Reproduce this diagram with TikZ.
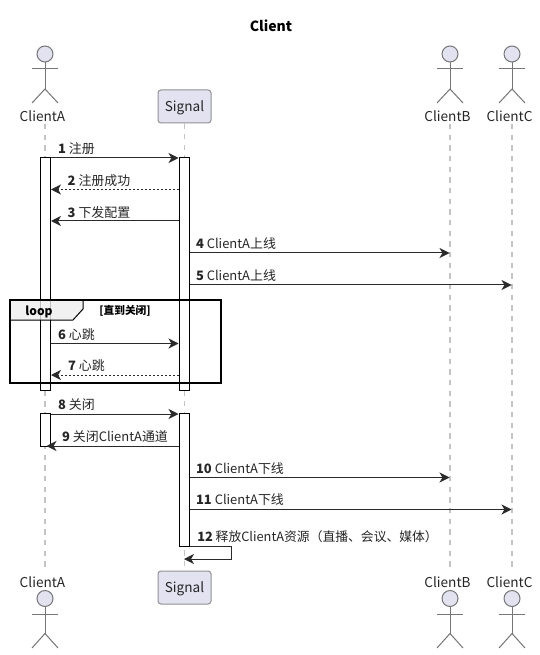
\documentclass[tikz,border=0pt]{standalone}
\usepackage{fontspec}
\setmainfont{Noto Sans CJK SC}
\usetikzlibrary{arrows.meta}
\definecolor{actfill}{HTML}{E2E2F0}
\definecolor{actline}{HTML}{767676}
\definecolor{lifegray}{HTML}{C4C4C4}
\definecolor{msgline}{HTML}{2A2A2A}
\definecolor{loophead}{HTML}{EEEEEE}
\newcommand{\stickman}[6]{% name, x, head y, arm y, hip y, foot y
  \node[head] (#1h) at (#2,#3) {};
  \coordinate (#1p) at (#2,#5);
  \coordinate (#1l) at (#2-13,#4);
  \coordinate (#1r) at (#2+13,#4);
  \coordinate (#1fl) at (#2-13,#6);
  \coordinate (#1fr) at (#2+13,#6);
  \draw[stick] (#1h.south) -- (#1p);
  \draw[stick] (#1l) -- (#1r);
  \draw[stick] (#1fl) -- (#1p) -- (#1fr);
}
\tikzset{
  x=0.75pt,y=-0.75pt,
  head/.style={circle,draw=actline,fill=actfill,line width=0.75pt,minimum size=12pt,inner sep=0pt},
  stick/.style={draw=actline,line width=0.75pt},
  actorlabel/.style={font=\fontsize{10.2pt}{12pt}\selectfont,text=black!85,inner sep=0pt,anchor=center},
  serverbox/.style={draw=actline!80,fill=actfill,rounded corners=2.2pt,line width=0.75pt,minimum width=39.75pt,minimum height=24.75pt,inner sep=0pt},
  serverlabel/.style={font=\fontsize{10.2pt}{12pt}\selectfont,text=black!85,inner sep=0pt},
  lifeline/.style={draw=lifegray,line width=1.1pt,dash pattern=on 4pt off 4pt},
  bar/.style={draw=black,fill=white,line width=0.75pt,inner sep=0pt,minimum width=7.5pt},
  msg/.style={draw=msgline,line width=0.75pt,-{Stealth[length=7.5pt,width=7.5pt,inset=2.2pt]}},
  reply/.style={msg,dash pattern=on 1.5pt off 1.5pt},
  mlabel/.style={font=\fontsize{9.7pt}{11pt}\selectfont,text=black!85,inner sep=0pt,anchor=center},
  titlelabel/.style={font=\bfseries\fontsize{10.5pt}{12pt}\selectfont,inner sep=0pt},
  loopbox/.style={draw=black,line width=1.5pt},
  loophd/.style={draw=black,fill=loophead,fill opacity=0.8,line width=0.75pt},
}
\begin{document}
\begin{tikzpicture}
\useasboundingbox[fill=white] (0,0) rectangle (539,655);
\node[titlelabel] (title) at (271,26) {Client};
% actors top
\stickman{at}{45}{54}{69}{89}{103}
\stickman{bt}{450}{54}{69}{89}{103}
\stickman{ct}{512}{54}{69}{89}{103}
\node[actorlabel] (alt) at (42.5,116.5) {ClientA};
\node[actorlabel] (blt) at (447.5,116.5) {ClientB};
\node[actorlabel] (clt) at (509.5,116.5) {ClientC};
\node[serverbox] (st) at (184.5,106.5) {};
\node[serverlabel] (stt) at (184.5,108) {Signal};
% actors bottom
\node[actorlabel] (alb) at (42.5,582.5) {ClientA};
\node[actorlabel] (blb) at (447.5,582.5) {ClientB};
\node[actorlabel] (clb) at (509.5,582.5) {ClientC};
\node[serverbox] (sb) at (184.5,587.5) {};
\node[serverlabel] (sbt) at (184.5,589) {Signal};
\stickman{ab}{45}{598.5}{614}{633.5}{648}
\stickman{bb}{450}{598.5}{614}{633.5}{648}
\stickman{cb}{512}{598.5}{614}{633.5}{648}
% lifelines
\coordinate (alt0) at (45,124);
\coordinate (alb0) at (45,570);
\coordinate (blt0) at (450,124);
\coordinate (blb0) at (450,570);
\coordinate (clt0) at (512,124);
\coordinate (clb0) at (512,570);
\draw[lifeline] (alt0) -- (alb0);
\draw[lifeline] (st.south) -- (sb.north);
\draw[lifeline] (blt0) -- (blb0);
\draw[lifeline] (clt0) -- (clb0);
% activation bars
\node[bar,minimum height=174.4pt] (a1) at (45.5,273.8) {};
\node[bar,minimum height=174.4pt] (s1) at (184.5,273.8) {};
\node[bar,minimum height=24.6pt] (a2) at (45.5,429.9) {};
\node[bar,minimum height=100.1pt] (s2) at (184.5,480.2) {};
% message end points
\foreach \n/\y in {1/158,2/189.5,3/221,6/343.5,7/375,8/414,9/446}{
  \coordinate (L\n) at (51,\y);
  \coordinate (R\n) at (178.5,\y);
}
\coordinate (L9) at (46.5,446);
\foreach \n/\y in {4/253,5/285,10/477.5,11/509.5}{
  \coordinate (S\n) at (190,\y);
}
\coordinate (B4) at (449.5,253);
\coordinate (C5) at (511.5,285);
\coordinate (B10) at (449.5,477.5);
\coordinate (C11) at (511.5,509.5);
\coordinate (S12a) at (190,546);
\coordinate (S12b) at (231.5,546);
\coordinate (S12c) at (231.5,559);
\coordinate (S12d) at (184,559);
% messages
\draw[msg] (L1) -- (R1);
\draw[reply] (R2) -- (L2);
\draw[msg] (R3) -- (L3);
\draw[msg] (S4) -- (B4);
\draw[msg] (S5) -- (C5);
\draw[msg] (L6) -- (R6);
\draw[reply] (R7) -- (L7);
\draw[msg] (L8) -- (R8);
\draw[msg] (R9) -- (L9);
\draw[msg] (S10) -- (B10);
\draw[msg] (S11) -- (C11);
\draw[msg] (S12a) -- (S12b) -- (S12c) -- (S12d);
% labels
\node[mlabel] (t1) at (76.5,148.5) {\textbf{1} 注册};
\node[mlabel] (t2) at (99,180.5) {\textbf{2} 注册成功};
\node[mlabel] (t3) at (99,212.5) {\textbf{3} 下发配置};
\node[mlabel] (t4) at (236,243.5) {\textbf{4} ClientA上线};
\node[mlabel] (t5) at (236,275.5) {\textbf{5} ClientA上线};
\node[mlabel] (t6) at (76.5,334.5) {\textbf{6} 心跳};
\node[mlabel] (t7) at (86.5,366) {\textbf{7} 心跳};
\node[mlabel] (t8) at (76.5,404.5) {\textbf{8} 关闭};
\node[mlabel] (t9) at (115,436.5) {\textbf{9} 关闭ClientA通道};
\node[mlabel] (t10) at (240,468.5) {\textbf{10} ClientA下线};
\node[mlabel] (t11) at (240,500) {\textbf{11} ClientA下线};
\node[mlabel,anchor=west,font=\fontsize{9.6pt}{11pt}\selectfont] (t12) at (197,536.5) {\textbf{12} 释放ClientA资源（直播、会议、媒体）};
% loop
\draw[loophd] (10,299.5) -- (83,299.5) -- (83,309) -- (73,320) -- (10,320) -- cycle;
\draw[loopbox] (10,299.5) rectangle (221,383);
\node[font=\bfseries\fontsize{9pt}{11pt}\selectfont,inner sep=0pt] (lp) at (39,312) {loop};
\node[font=\bfseries\fontsize{8pt}{9pt}\selectfont,inner sep=0pt] (lc) at (125,311) {[直到关闭]};
\end{tikzpicture}
\end{document}
